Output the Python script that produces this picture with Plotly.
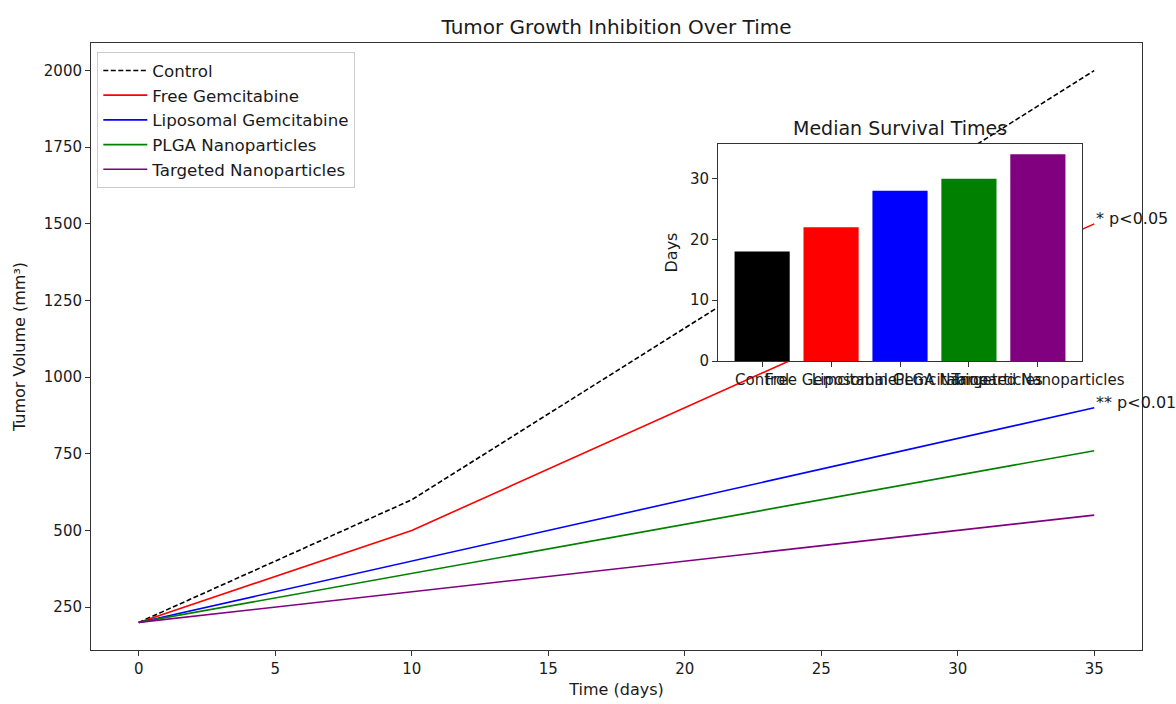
import plotly.graph_objects as go

# ---- data ----
days = [0, 10, 35]
control = [200, 600, 2000]
free_gem = [200, 500, 1500]
lipo_gem = [200, 400, 900]
plga_np = [200, 360, 760]
targeted_np = [200, 300, 550]

series_names = ["Control", "Free Gemcitabine", "Liposomal Gemcitabine",
                "PLGA Nanoparticles", "Targeted Nanoparticles"]
series_values = [control, free_gem, lipo_gem, plga_np, targeted_np]
series_colors = ["black", "#ff0000", "#0000ff", "#008000", "#800080"]

survival_groups = ["Control", "Free Gemcitabine", "Liposomal Gemcitabine",
                   "PLGA Nanoparticles", "Targeted Nanoparticles"]
survival_days = [18, 22, 28, 30, 34]

x_ticks = [0, 5, 10, 15, 20, 25, 30, 35]
y_ticks = [250, 500, 750, 1000, 1250, 1500, 1750, 2000]
inset_y_ticks = [0, 10, 20, 30]

annotations_text = [("* p<0.05", 35, 1500), ("** p<0.01", 35, 900)]

FONT = "DejaVu Sans"
TXT = "#1a1a1a"

fig = go.Figure()

for i, (name, vals, col) in enumerate(zip(series_names, series_values, series_colors)):
    fig.add_trace(go.Scatter(
        x=days, y=vals, mode="lines", name=name,
        line=dict(color=col, width=1.6, dash="5px,2.5px" if i == 0 else "solid"),
        legendgroup=f"g{i}", xaxis="x", yaxis="y",
    ))

fig.add_trace(go.Bar(
    x=list(range(len(survival_groups))), y=survival_days,
    marker=dict(color=series_colors, line=dict(width=0)),
    width=0.8, showlegend=False, xaxis="x2", yaxis="y2",
))

axis_common = dict(showline=True, mirror=True, linecolor="#333333", linewidth=1,
                   ticks="outside", ticklen=5, tickcolor="#333333", showgrid=False,
                   zeroline=False, automargin=False,
                   tickfont=dict(family=FONT, size=15, color=TXT))

inset_x = [0.5966, 0.9429]
inset_y = [0.4761, 0.8336]

fig.update_layout(
    template="none",
    width=1176, height=704,
    margin=dict(l=91, r=34, t=43, b=54, autoexpand=False),
    paper_bgcolor="white", plot_bgcolor="white",
    font=dict(family=FONT, size=15, color=TXT),
    xaxis=dict(range=[-1.75, 36.75], tickvals=x_ticks, domain=[0, 1],
               title=dict(text="Time (days)", font=dict(family=FONT, size=16, color=TXT), standoff=6),
               **axis_common),
    yaxis=dict(range=[110, 2090], tickvals=y_ticks, domain=[0, 1],
               title=dict(text="Tumor Volume (mm³)", font=dict(family=FONT, size=16, color=TXT), standoff=14),
               **axis_common),
    xaxis2=dict(anchor="y2", domain=inset_x, range=[-0.64, 4.64],
                tickvals=list(range(len(survival_groups))), ticktext=survival_groups,
                tickangle=0, **axis_common),
    yaxis2=dict(anchor="x2", domain=inset_y, range=[0, 35.7], tickvals=inset_y_ticks,
                title=dict(text="Days", font=dict(family=FONT, size=16, color=TXT), standoff=8),
                **axis_common),
    legend=dict(x=0.006, y=0.985, xanchor="left", yanchor="top",
                bordercolor="#cccccc", borderwidth=1, bgcolor="rgba(255,255,255,0.85)",
                font=dict(family=FONT, size=16.7, color=TXT),
                tracegroupgap=0, itemwidth=44),
    title=dict(text="Tumor Growth Inhibition Over Time", x=0.5, xref="paper",
               y=1 - 27 / 704, yref="container", yanchor="middle", xanchor="center",
               font=dict(family=FONT, size=20, color=TXT)),
    showlegend=True,
)

# white background for inset (covers main lines)
fig.add_shape(type="rect", xref="x2 domain", yref="y2 domain", x0=0, x1=1, y0=0, y1=1,
              fillcolor="white", line=dict(width=0), layer="below")

# inset title
fig.add_annotation(text="Median Survival Times", xref="x2 domain", yref="y2 domain",
                   x=0.5, y=1.0, yanchor="bottom", yshift=3, showarrow=False,
                   font=dict(family=FONT, size=19, color=TXT))

for txt, xv, yv in annotations_text:
    fig.add_annotation(text=txt, x=xv, y=yv, xref="x", yref="y", xanchor="left",
                       yanchor="middle", yshift=5, showarrow=False,
                       font=dict(family=FONT, size=16, color=TXT))

fig.write_html("out.html")
